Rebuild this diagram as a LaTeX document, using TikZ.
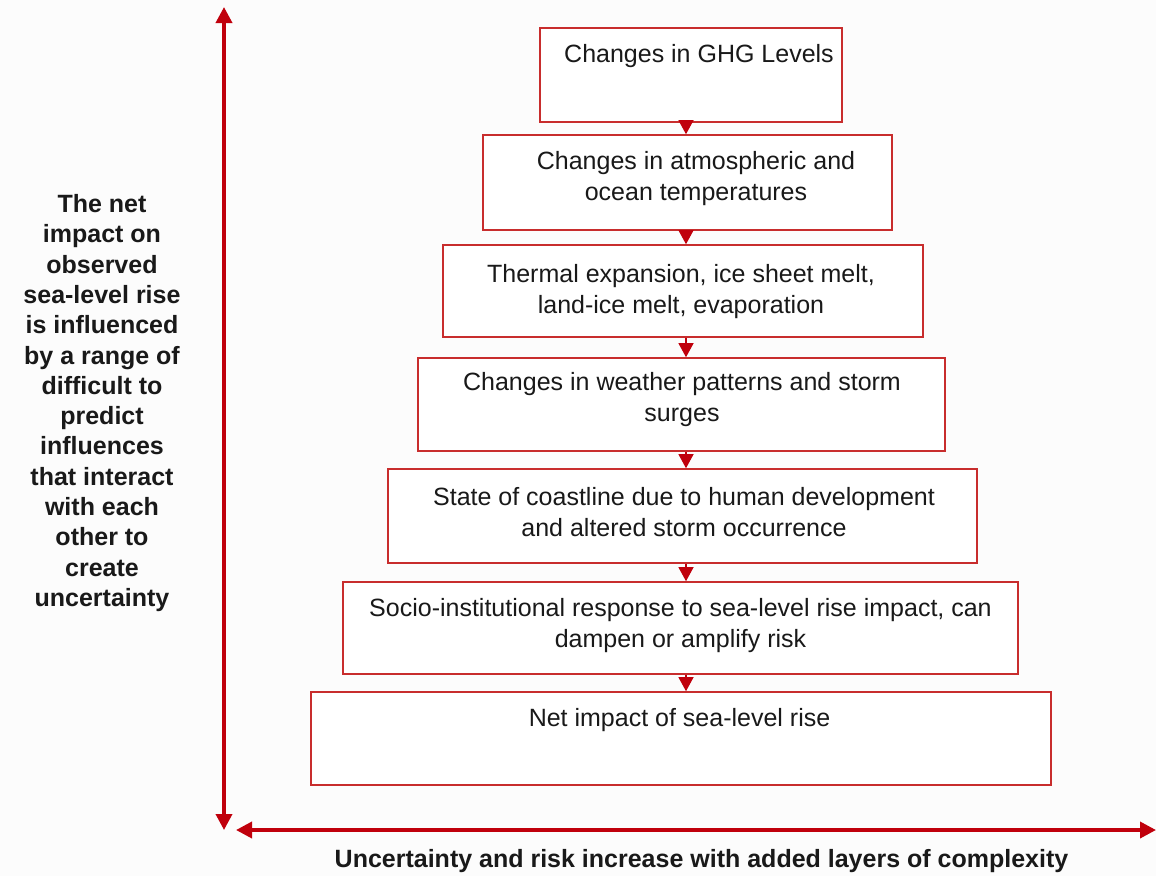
\documentclass[tikz,border=0pt]{standalone}
\usepackage{fontspec}
\setmainfont{Liberation Sans}
\usetikzlibrary{arrows.meta}
\definecolor{boxred}{RGB}{200,45,45}
\definecolor{arrred}{RGB}{192,0,12}
\definecolor{bgc}{RGB}{252,252,252}
\definecolor{ink}{RGB}{25,25,25}
\begin{document}
\begin{tikzpicture}[x=1pt,y=-1pt,
  box/.style={draw=boxred, line width=1.6pt, fill=white, rectangle, inner sep=0pt},
  boxtext/.style={font=\fontsize{25}{31}\selectfont, align=center, text=ink, inner sep=0pt},
  sidetext/.style={font=\bfseries\fontsize{25}{30.3}\selectfont, align=center, text=ink, inner sep=0pt},
  flow/.style={draw=arrred, line width=1.2pt, -{Triangle[length=14pt,width=15pt]}},
  axisarrow/.style={draw=arrred, line width=3.6pt, {Triangle[length=16pt,width=16pt]}-{Triangle[length=16pt,width=16pt]}}
]
\fill[bgc] (0,0) rectangle (1156,876);
\useasboundingbox (0,0) rectangle (1156,876);

\coordinate (ax) at (686,0);

\node[box, minimum width=302pt, minimum height=94pt] (b1) at (691,75) {};
\node[box, minimum width=409pt, minimum height=95pt] (b2) at (687.5,182.5) {};
\node[box, minimum width=480pt, minimum height=92pt] (b3) at (683,291) {};
\node[box, minimum width=527pt, minimum height=93pt] (b4) at (681.5,404.5) {};
\node[box, minimum width=589pt, minimum height=94pt] (b5) at (682.5,516) {};
\node[box, minimum width=675pt, minimum height=92pt] (b6) at (680.5,628) {};
\node[box, minimum width=740pt, minimum height=93pt] (b7) at (681,738.5) {};

\node[boxtext] (t1) at (699,56) {Changes in GHG Levels};
\node[boxtext] (t2) at (696,178.5) {Changes in atmospheric and\\ocean temperatures};
\node[boxtext] (t3) at (681,292) {Thermal expansion, ice sheet melt,\\land-ice melt, evaporation};
\node[boxtext] (t4) at (682,399.5) {Changes in weather patterns and storm\\surges};
\node[boxtext] (t5) at (684,512.5) {State of coastline due to human development\\and altered storm occurrence};
\node[boxtext] (t6) at (680.5,625.5) {Socio-institutional response to sea-level rise impact, can\\dampen or amplify risk};
\node[boxtext] (t7) at (679.5,720) {Net impact of sea-level rise};

\draw[flow] (b1.south -| ax) -- (b2.north -| ax);
\draw[flow] (b2.south -| ax) -- (b3.north -| ax);
\draw[flow] (b3.south -| ax) -- (b4.north -| ax);
\draw[flow] (b4.south -| ax) -- (b5.north -| ax);
\draw[flow] (b5.south -| ax) -- (b6.north -| ax);
\draw[flow] (b6.south -| ax) -- (b7.north -| ax);

\coordinate (vtop) at (224,7);
\coordinate (vbot) at (224,830);
\coordinate (hleft) at (236,830);
\coordinate (hright) at (1156,830);
\draw[axisarrow] (vtop) -- (vbot);
\draw[axisarrow] (hleft) -- (hright);

\node[sidetext] (side) at (102,403) {The net\\impact on\\observed\\sea-level rise\\is influenced\\by a range of\\difficult to\\predict\\influences\\that interact\\with each\\other to\\create\\uncertainty};
\node[sidetext] (bottom) at (701.5,861) {Uncertainty and risk increase with added layers of complexity};
\end{tikzpicture}
\end{document}
